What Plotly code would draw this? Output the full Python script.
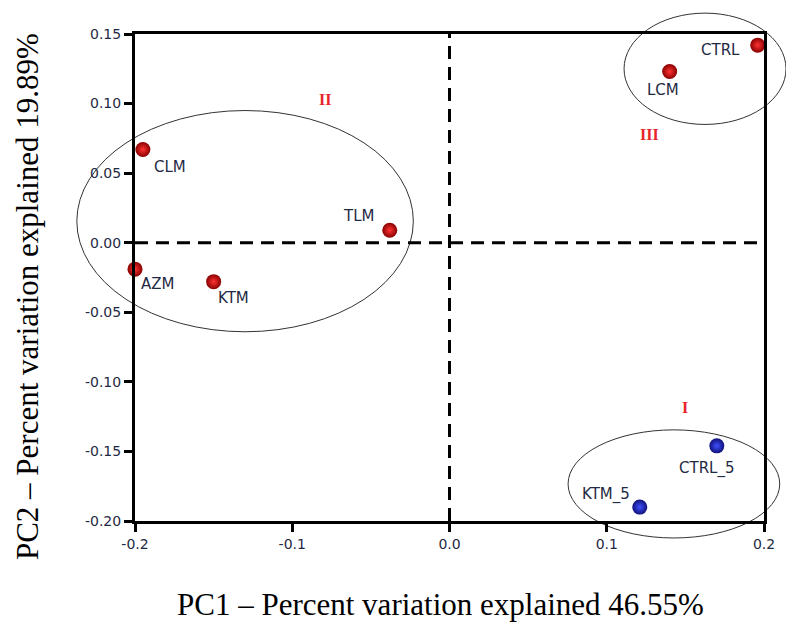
import plotly.graph_objects as go

# ---- data ----
red_names = ["CTRL", "LCM", "CLM", "TLM", "AZM", "KTM"]
red_pc1 = [0.196, 0.140, -0.195, -0.038, -0.200, -0.150]
red_pc2 = [0.142, 0.123, 0.067, 0.009, -0.019, -0.028]

blue_names = ["CTRL_5", "KTM_5"]
blue_pc1 = [0.170, 0.121]
blue_pc2 = [-0.146, -0.190]

# label offsets (pixels) for point names
label_dx = {"CTRL": -37, "LCM": -7, "CLM": 27, "TLM": -31, "AZM": 22, "KTM": 20, "CTRL_5": -10, "KTM_5": -34}
label_dy = {"CTRL": -5, "LCM": -18, "CLM": -18, "TLM": 14, "AZM": -15, "KTM": -16, "CTRL_5": -23, "KTM_5": 13}

x_ticks = [-0.2, -0.1, 0.0, 0.1, 0.2]
x_ticktext = ["-0.2", "-0.1", "0.0", "0.1", "0.2"]
y_ticks = [0.15, 0.10, 0.05, 0.00, -0.05, -0.10, -0.15, -0.20]
y_ticktext = ["0.15", "0.10", "0.05", "0.00", "-0.05", "-0.10", "-0.15", "-0.20"]

# cluster ellipses (data units): x0, x1, y0, y1
ellipses = [
    (-0.237, -0.023, -0.064, 0.095),
    (0.111, 0.214, 0.085, 0.165),
    (0.0754, 0.210, -0.2122, -0.1345),
]
groups = ["II", "III", "I"]
group_x = [-0.079, 0.1275, 0.150]
group_y = [0.103, 0.078, -0.1186]

XR = [-0.2, 0.2]
YR = [-0.2, 0.15]

def px(x):
    return (x - XR[0]) / (XR[1] - XR[0])

def py(y):
    return (y - YR[0]) / (YR[1] - YR[0])

fig = go.Figure()
fig.add_trace(go.Scatter(
    x=red_pc1, y=red_pc2, mode="markers",
    marker=dict(size=15, color="#8a0000",
                gradient=dict(type="radial", color="#ff3333"),
                line=dict(width=0)),
    cliponaxis=False, showlegend=False))
fig.add_trace(go.Scatter(
    x=blue_pc1, y=blue_pc2, mode="markers",
    marker=dict(size=15, color="#10127a",
                gradient=dict(type="radial", color="#4050ff"),
                line=dict(width=0)),
    cliponaxis=False, showlegend=False))

shapes = []
for (x0, x1, y0, y1) in ellipses:
    shapes.append(dict(type="circle", xref="paper", yref="paper",
                       x0=px(x0), x1=px(x1), y0=py(y0), y1=py(y1),
                       line=dict(color="#333333", width=1), layer="below"))
shapes.append(dict(type="line", xref="x", yref="paper", x0=0, x1=0, y0=0, y1=1,
                   line=dict(color="black", width=3, dash="13px,8px")))
shapes.append(dict(type="line", xref="paper", yref="y", x0=0, x1=1, y0=0, y1=0,
                   line=dict(color="black", width=3, dash="13px,8px")))

annotations = []
names = red_names + blue_names
xs = red_pc1 + blue_pc1
ys = red_pc2 + blue_pc2
for n, x, y in zip(names, xs, ys):
    annotations.append(dict(x=x, y=y, xref="x", yref="y", text=n, showarrow=False,
                            xshift=label_dx[n], yshift=label_dy[n],
                            font=dict(family="DejaVu Sans", size=15, color="#1f2a44")))
for g, x, y in zip(groups, group_x, group_y):
    annotations.append(dict(x=x, y=y, xref="x", yref="y", text="<b>" + g + "</b>", showarrow=False,
                            font=dict(family="Liberation Serif", size=16, color="#e8242a")))
annotations.append(dict(x=0.485, y=-0.172, xref="paper", yref="paper", yanchor="middle",
                        text="PC1 – Percent variation explained 46.55%", showarrow=False,
                        font=dict(family="Liberation Serif", size=31, color="black")))
annotations.append(dict(x=-0.17, y=0.46, xref="paper", yref="paper", textangle=-90,
                        xanchor="center", yanchor="middle",
                        text="PC2 – Percent variation explained 19.89%", showarrow=False,
                        font=dict(family="Liberation Serif", size=31, color="black")))

fig.update_layout(
    width=786, height=624,
    margin=dict(l=135, r=22, t=34, b=103),
    paper_bgcolor="white", plot_bgcolor="white",
    shapes=shapes, annotations=annotations,
    xaxis=dict(range=XR, tickvals=x_ticks, ticktext=x_ticktext,
               showgrid=False, zeroline=False, showline=True, linecolor="black", linewidth=3,
               mirror=True, ticks="outside", ticklen=8, tickwidth=3, tickcolor="black",
               tickfont=dict(family="DejaVu Sans", size=14, color="#1f2a44")),
    yaxis=dict(range=YR, tickvals=y_ticks, ticktext=y_ticktext,
               showgrid=False, zeroline=False, showline=True, linecolor="black", linewidth=3,
               mirror=True, ticks="outside", ticklen=8, tickwidth=3, tickcolor="black",
               tickfont=dict(family="DejaVu Sans", size=14, color="#1f2a44")),
)

fig.write_html("out.html")
